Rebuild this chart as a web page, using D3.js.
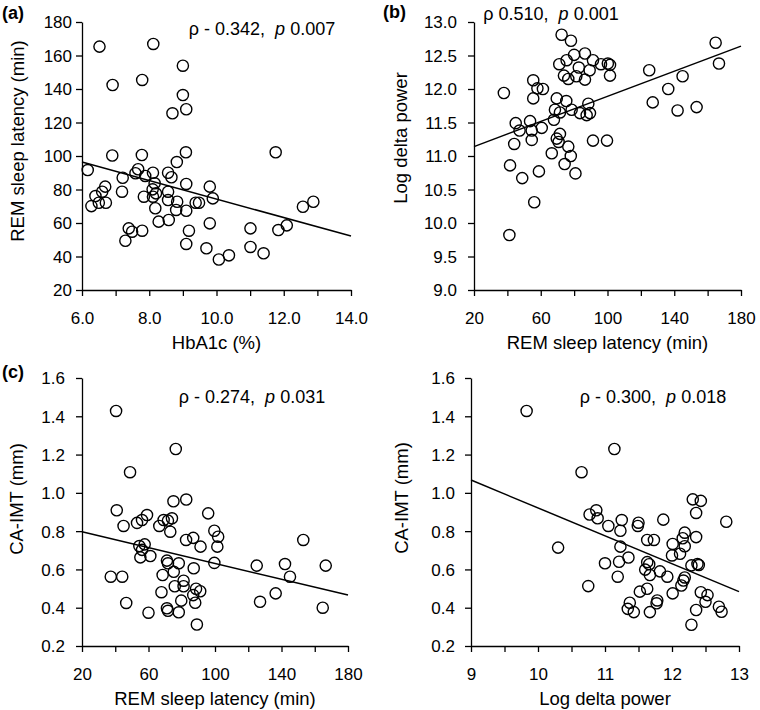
<!DOCTYPE html>
<html><head><meta charset="utf-8">
<script src="https://cdn.jsdelivr.net/npm/d3@7"></script>
<style>
body{margin:0;background:#fff}
text{font-family:Arial,"Liberation Sans",sans-serif;fill:#000}
</style>
</head><body>
<svg id="chart" width="760" height="710"></svg>
<script>
// ---- Panel (a): HbA1c vs REM sleep latency ----
const hba1c = [6.52,8.12,6.91,7.79,9.0,9.0,9.10,8.69,6.90,7.78,9.09,11.76,6.17,8.82,7.21,7.67,7.59,7.88,8.11,8.56,8.66,9.10,9.80,9.89,6.69,6.60,6.40,7.19,8.16,8.10,7.84,8.11,8.20,8.56,8.56,8.83,6.28,6.50,6.71,8.18,8.80,9.10,9.38,9.48,8.28,8.58,7.39,7.49,7.79,7.29,9.18,9.80,9.10,9.70,10.07,10.37,11.01,11.01,11.40,11.84,12.09,12.57,12.88];
const remA = [165.3,166.9,142.4,145.4,153.9,136.4,127.9,125.5,100.3,100.6,102.2,102.2,91.6,96.4,87.0,92.1,89.7,88.1,90.0,90.0,87.3,83.3,81.7,74.7,81.7,78.7,76.1,78.7,83.7,80.1,75.7,75.7,77.7,78.7,73.7,72.7,70.1,72.1,72.1,68.8,67.8,67.3,72.1,72.1,60.8,61.8,56.8,54.8,55.4,49.4,55.4,59.8,47.5,44.9,38.2,40.7,56.8,45.7,41.9,55.8,58.6,69.7,72.7];
const fitAx = [6, 14], fitAy = [96.4, 52.2];

// ---- Panel (b): REM sleep latency vs Log delta power ----
const remB = [37.9,41.2,41.6,45.0,47.3,44.1,48.9,53.6,54.6,54.6,56.1,55.5,55.5,58.0,61.3,58.9,60.6,66.6,67.9,68.5,69.6,71.1,72.5,78.1,75.5,80.0,86.5,91.3,96.1,100.2,101.5,101.5,73.9,76.5,81.3,82.8,86.5,89.3,75.3,71.5,78.5,83.5,88.5,89.5,87.5,71.5,69.6,70.7,76.5,78.0,74.3,80.8,91.3,99.7,125.0,127.1,136.4,145.0,142.0,153.4,164.8,166.8];
const deltaB = [11.94,9.82,10.86,11.49,11.38,11.18,10.67,11.52,11.38,11.24,10.31,12.13,11.86,12.01,12.00,10.77,11.42,11.04,11.54,11.69,11.86,12.37,12.81,12.72,12.43,12.51,12.53,12.43,12.37,12.38,12.36,12.20,12.20,12.15,12.19,12.32,12.14,12.28,11.82,11.65,11.69,11.64,11.78,11.64,11.61,11.33,11.26,11.21,11.14,11.00,10.88,10.74,11.23,11.23,12.28,11.80,12.00,12.19,11.68,11.73,12.69,12.38];
const fitBx = [20, 180], fitBy = [11.14, 12.64];

// ---- Panel (c): REM sleep latency vs CA-IMT ----
const remC = [40.5,76.4,48.9,40.9,45.0,53.1,56.1,59.1,75.0,82.7,95.9,66.5,69.1,71.7,74.1,73.1,82.6,86.9,91.3,99.6,101.9,101.4,54.5,57.7,56.1,55.1,61.1,71.1,71.7,78.2,99.6,75.2,68.5,87.2,37.3,44.2,75.8,81.1,81.1,88.6,91.1,86.9,67.8,79.7,88.1,46.6,60.0,71.1,71.7,78.2,89.1,125.1,142.1,145.1,153.1,166.6,127.1,136.5,164.8];
const imtC = [1.428,1.229,1.108,0.909,0.827,0.843,0.858,0.884,0.956,0.965,0.893,0.827,0.858,0.855,0.867,0.797,0.754,0.765,0.719,0.802,0.771,0.719,0.722,0.731,0.702,0.663,0.670,0.646,0.632,0.632,0.634,0.588,0.571,0.606,0.562,0.562,0.512,0.541,0.512,0.499,0.486,0.466,0.481,0.437,0.426,0.425,0.374,0.397,0.384,0.376,0.312,0.620,0.628,0.562,0.754,0.620,0.431,0.475,0.400];
const fitCx = [20, 180], fitCy = [0.797, 0.466];

// ---- Panel (d): Log delta power vs CA-IMT ----
const deltaD = [9.83,11.14,10.65,10.30,10.77,10.87,10.89,11.05,11.25,11.23,11.50,11.49,11.87,12.31,12.43,12.36,12.81,11.63,11.73,11.23,12.19,12.16,12.36,12.01,12.19,12.00,12.12,11.35,11.21,11.00,11.63,11.66,11.60,11.67,11.82,11.93,11.19,12.29,12.38,12.40,12.19,12.17,12.14,10.75,12.01,11.52,11.63,11.78,11.77,11.37,11.34,11.43,11.67,12.43,12.53,12.50,12.36,12.70,12.74,12.29];
const imtD = [1.428,1.229,1.108,0.714,0.887,0.909,0.867,0.827,0.858,0.802,0.844,0.827,0.860,0.966,0.958,0.895,0.849,0.754,0.754,0.719,0.792,0.763,0.769,0.733,0.721,0.673,0.682,0.662,0.640,0.632,0.638,0.627,0.599,0.571,0.590,0.562,0.562,0.621,0.628,0.623,0.558,0.542,0.516,0.513,0.475,0.484,0.499,0.438,0.423,0.426,0.394,0.377,0.377,0.481,0.466,0.431,0.388,0.405,0.379,0.311];
const fitDx = [9, 13], fitDy = [1.067, 0.484];

// ---- Tick values and labels ----
const xTicksA = [6,7,8,9,10,11,12,13,14], xLabA = [6,8,10,12,14];
const yTicksA = [20,40,60,80,100,120,140,160,180];
const xTicksRem = [20,40,60,80,100,120,140,160,180], xLabRem = [20,60,100,140,180];
const yTicksB = [9,9.5,10,10.5,11,11.5,12,12.5,13];
const yTicksImt = [0.2,0.4,0.6,0.8,1.0,1.2,1.4,1.6];
const xTicksD = [9,9.5,10,10.5,11,11.5,12,12.5,13], xLabD = [9,10,11,12,13];

const panels = [
  {xs: hba1c, ys: remA, fx: fitAx, fy: fitAy, xDom:[6,14], yDom:[20,180], xr:[82,351], yr:[290,22],
   xTicks: xTicksA, xLab: xLabA, xFmt: d=>d.toFixed(1), yTicks: yTicksA, yFmt: d=>String(d), yPad: 4,
   xTitle:'HbA1c (%)', yTitle:'REM sleep latency (min)', yTitleX:17, yTitleY:141,
   label:'(a)', labelX:2, labelY:13, annA:'ρ - 0.342,  ', annB:' 0.007', annX:262, annY:29},
  {xs: remB, ys: deltaB, fx: fitBx, fy: fitBy, xDom:[20,180], yDom:[9,13], xr:[474,741], yr:[290,22],
   xTicks: xTicksRem, xLab: xLabRem, xFmt: d=>String(d), yTicks: yTicksB, yFmt: d=>d.toFixed(1), yPad: 11,
   xTitle:'REM sleep latency (min)', yTitle:'Log delta power', yTitleX:400, yTitleY:138,
   label:'(b)', labelX:383, labelY:12, annA:'ρ 0.510,  ', annB:' 0.001', annX:551, annY:14},
  {xs: remC, ys: imtC, fx: fitCx, fy: fitCy, xDom:[20,180], yDom:[0.2,1.6], xr:[82,348], yr:[646,378],
   xTicks: xTicksRem, xLab: xLabRem, xFmt: d=>String(d), yTicks: yTicksImt, yFmt: d=>d.toFixed(1), yPad: 11,
   xTitle:'REM sleep latency (min)', yTitle:'CA-IMT (mm)', yTitleX:16, yTitleY:499,
   label:'(c)', labelX:2, labelY:372, annA:'ρ - 0.274,  ', annB:' 0.031', annX:252, annY:397},
  {xs: deltaD, ys: imtD, fx: fitDx, fy: fitDy, xDom:[9,13], yDom:[0.2,1.6], xr:[471,739], yr:[646,378],
   xTicks: xTicksD, xLab: xLabD, xFmt: d=>String(d), yTicks: yTicksImt, yFmt: d=>d.toFixed(1), yPad: 10,
   xTitle:'Log delta power', yTitle:'CA-IMT (mm)', yTitleX:401, yTitleY:498,
   label:null, annA:'ρ - 0.300,  ', annB:' 0.018', annX:653, annY:397}
];

const svg = d3.select('#chart');
svg.append('rect').attr('width',760).attr('height',710).attr('fill','#fff');

panels.forEach(p => {
  const x = d3.scaleLinear().domain(p.xDom).range(p.xr);
  const y = d3.scaleLinear().domain(p.yDom).range(p.yr);
  const g = svg.append('g');
  const has = (arr, d) => arr.some(v => Math.abs(v - d) < 1e-9);

  // x axis
  const xa = g.append('g').attr('transform', `translate(0,${p.yr[0]})`)
    .call(d3.axisBottom(x).tickValues(p.xTicks).tickSize(6).tickSizeOuter(0)
      .tickFormat(d => has(p.xLab, d) ? p.xFmt(d) : ''));
  xa.selectAll('text').attr('y', 28).attr('dy', '0.35em').style('font-size', '17px')
    .style('font-family', 'Arial, "Liberation Sans", sans-serif').attr('fill', '#000');
  // y axis
  const ya = g.append('g').attr('transform', `translate(${p.xr[0]},0)`)
    .call(d3.axisLeft(y).tickValues(p.yTicks).tickSize(6).tickSizeOuter(0).tickPadding(p.yPad)
      .tickFormat(p.yFmt));
  ya.selectAll('text').attr('dy', '0.35em').style('font-size', '17px')
    .style('font-family', 'Arial, "Liberation Sans", sans-serif').attr('fill', '#000');
  [xa, ya].forEach(a => {
    a.select('.domain').attr('stroke', '#000').attr('stroke-width', 1.3);
    a.selectAll('.tick line').attr('stroke', '#000').attr('stroke-width', 1.3);
  });

  // regression line
  const pts = p.fx.map((v, i) => [v, p.fy[i]]);
  g.append('path').datum(pts)
    .attr('d', d3.line().x(d => x(d[0])).y(d => y(d[1])))
    .attr('fill', 'none').attr('stroke', '#000').attr('stroke-width', 1.5);

  // points
  g.selectAll('circle.pt').data(p.xs.map((v, i) => [v, p.ys[i]])).join('circle')
    .attr('class', 'pt')
    .attr('cx', d => x(d[0])).attr('cy', d => y(d[1])).attr('r', 5.6)
    .attr('fill', 'none').attr('stroke', '#000').attr('stroke-width', 1.4);

  // axis titles
  g.append('text').attr('x', (p.xr[0] + p.xr[1]) / 2).attr('y', p.yr[0] + 52)
    .attr('text-anchor', 'middle').attr('dominant-baseline', 'central')
    .style('font-size', '18.5px').text(p.xTitle);
  g.append('text').attr('transform', `translate(${p.yTitleX},${p.yTitleY}) rotate(-90)`)
    .attr('text-anchor', 'middle').attr('dominant-baseline', 'central')
    .style('font-size', '18.5px').text(p.yTitle);

  // panel label
  if (p.label) {
    g.append('text').attr('x', p.labelX).attr('y', p.labelY).attr('dominant-baseline', 'central')
      .style('font-size', '18px').style('font-weight', 'bold').text(p.label);
  }

  // annotation
  const t = g.append('text').attr('x', p.annX).attr('y', p.annY)
    .attr('text-anchor', 'middle').attr('dominant-baseline', 'central')
    .style('font-size', '18px').style('white-space', 'pre');
  t.append('tspan').text(p.annA);
  t.append('tspan').style('font-style', 'italic').text('p');
  t.append('tspan').text(p.annB);
});
</script>
</body></html>
